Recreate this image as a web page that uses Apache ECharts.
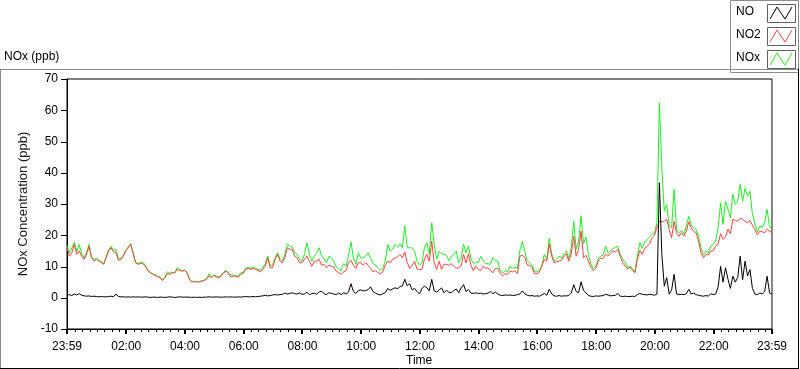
<!DOCTYPE html>
<html>
<head>
<meta charset="utf-8">
<script src="https://cdn.jsdelivr.net/npm/echarts@6/dist/echarts.min.js"></script>
<style>
    html, body { margin: 0; padding: 0; background: #fff; }
    #chart { width: 800px; height: 369px; }
</style>
</head>
<body>
<div id="chart"></div>
<script>
// one sample every 5 minutes, starting 23:59
var stepMin = 5;

var noValues = [
    0.8, 1.0, 0.7, 1.2, 0.9, 1.3, 0.8, 0.6, 0.5, 0.6, 0.4, 0.5, 0.4, 0.3, 0.4, 0.3, 0.3, 0.4, 0.5, 0.3,
    1.2, 0.4, 0.3, 0.3, 0.2, 0.3, 0.2, 0.3, 0.2, 0.3, 0.2, 0.2, 0.3, 0.2, 0.1, 0.2, 0.2, 0.1, 0.2, 0.2,
    0.1, 0.2, 0.3, 0.2, 0.1, 0.2, 0.3, 0.2, 0.2,
    0.2, 0.2, 0.1, 0.2, 0.1, 0.2, 0.1, 0.2, 0.2, 0.3, 0.2, 0.2, 0.3, 0.2, 0.2, 0.2, 0.3, 0.2, 0.3, 0.2,
    0.2, 0.3, 0.2, 0.3, 0.4, 0.3, 0.3, 0.4, 0.3, 0.4, 0.5, 0.6, 0.8, 0.6, 0.7, 0.9, 1.0, 0.9, 1.0, 1.1,
    1.5, 1.2, 1.4, 1.6, 1.3, 1.2, 1.5, 1.1,
    1.2, 1.8, 1.0, 1.3, 1.5, 1.1, 1.9, 2.1, 1.3, 1.0, 1.6, 1.4, 1.2, 1.0, 1.5, 1.0, 1.6, 1.2, 1.8, 4.5,
    2.0, 1.4, 2.3, 2.5, 2.2, 2.3, 2.6, 3.5, 2.0, 1.5, 1.1, 0.9, 1.3, 1.6, 3.0, 2.4, 2.8, 3.2, 2.9, 3.5,
    3.8, 5.9, 3.8, 4.5, 2.5, 3.0, 2.0, 1.2,
    3.0, 3.7, 3.2, 2.2, 5.9, 2.2, 1.8, 2.4, 3.2, 1.6, 2.4, 1.8, 1.6, 2.3, 2.8, 1.6, 3.2, 4.2, 2.0, 2.6,
    1.5, 1.4, 1.6, 1.3, 1.5, 1.2, 1.3, 1.5, 2.0, 1.3, 1.8, 1.2, 0.8, 0.7, 0.9, 0.8, 0.9, 0.7, 0.8, 1.0,
    1.2, 2.2, 1.3, 0.8, 0.6, 0.7, 0.5, 0.6, 0.5,
    0.9, 1.4, 0.8, 2.7, 1.2, 0.6, 0.5, 0.7, 0.5, 0.6, 0.6, 0.7, 1.5, 4.2, 2.0, 1.6, 5.1, 2.4, 1.6, 0.7,
    0.5, 0.4, 0.6, 0.5, 0.6, 0.7, 1.1, 0.9, 0.6, 0.7, 0.8, 1.4, 0.5, 0.4, 0.5, 0.4, 0.4, 0.5, 0.4, 1.0,
    1.4, 1.1, 1.0, 0.9, 1.1, 1.0,
    0.8, 1.2, 36.8, 13.9, 3.7, 6.4, 1.2, 2.5, 7.5, 1.2, 1.0, 1.1, 1.0, 1.3, 2.7, 1.2, 1.5, 1.0, 0.8, 0.6,
    0.5, 0.7, 0.5, 1.3, 1.0, 1.2, 3.5, 10.1, 5.0, 9.6, 6.0, 3.0, 6.9, 5.0, 6.5, 13.3, 5.8, 11.7, 7.0, 9.0,
    3.0, 1.2, 1.0, 1.5, 1.2, 2.0, 6.9, 1.5, 1.2
];

var no2Values = [
    16.0, 13.3, 14.4, 17.1, 13.9, 15.0, 13.3, 12.3, 13.9, 16.5, 12.8, 11.7, 12.3, 11.7, 11.2, 10.7, 12.8, 15.0, 16.0, 14.7,
    14.4, 12.0, 12.3, 13.3, 15.0, 16.0, 17.1, 14.1, 11.2, 10.7, 11.0, 10.9, 10.1, 8.7, 8.0, 7.5, 7.1, 6.8, 6.4, 5.5,
    6.4, 7.7, 7.5, 8.0, 7.9, 9.1, 8.7, 8.5, 8.7,
    8.0, 5.9, 5.1, 5.1, 5.1, 5.0, 5.3, 5.5, 5.9, 7.0, 6.4, 7.1, 6.6, 6.4, 7.0, 8.0, 8.5, 7.7, 6.6, 7.0,
    6.8, 6.6, 7.5, 7.8, 9.1, 9.4, 9.1, 9.4, 9.1, 8.7, 8.3, 9.1, 10.1, 12.8, 9.6, 9.6, 12.3, 13.9, 11.7, 11.2,
    12.8, 16.0, 15.5, 15.5, 13.3, 12.8, 11.2, 11.2,
    12.3, 13.3, 11.7, 10.1, 11.7, 11.7, 12.3, 10.4, 10.7, 9.6, 10.4, 10.1, 9.8, 8.5, 8.0, 7.5, 8.3, 8.7, 11.2, 12.0,
    10.4, 9.4, 11.2, 11.2, 10.4, 11.2, 10.4, 9.4, 8.3, 8.7, 8.0, 7.7, 8.3, 10.4, 11.7, 11.2, 12.3, 12.6, 13.0, 13.9,
    12.8, 14.7, 11.2, 9.4, 10.4, 11.7, 9.1, 9.1,
    9.1, 12.3, 13.9, 11.7, 18.1, 11.2, 9.1, 11.7, 9.1, 10.7, 10.7, 10.4, 10.9, 10.1, 9.4, 9.6, 10.1, 13.9, 11.2, 14.1,
    10.4, 8.7, 10.1, 9.1, 8.7, 10.1, 9.4, 9.6, 8.7, 8.0, 9.4, 9.4, 7.7, 7.0, 7.7, 7.5, 8.5, 8.3, 8.7, 7.7,
    13.3, 13.6, 13.0, 10.4, 10.4, 9.6, 7.7, 7.7, 8.3,
    10.1, 12.3, 11.7, 17.1, 13.3, 11.2, 11.5, 11.7, 12.0, 13.3, 14.1, 11.7, 14.1, 19.7, 13.3, 15.5, 21.3, 12.8, 13.6, 11.7,
    9.8, 8.7, 9.4, 11.7, 12.6, 12.6, 13.9, 13.3, 14.4, 15.0, 14.7, 15.5, 13.3, 11.2, 10.1, 9.2, 9.8, 8.7, 8.0, 12.3,
    15.1, 13.9, 15.8, 16.5, 17.3, 19.2,
    20.0, 22.5, 24.5, 24.3, 24.5, 25.1, 21.9, 19.2, 24.5, 20.8, 19.7, 20.8, 19.7, 21.3, 24.3, 22.4, 21.3, 20.8, 18.1, 14.4,
    12.8, 13.9, 13.7, 14.9, 15.1, 16.5, 17.3, 20.5, 18.7, 19.4, 21.9, 20.5, 25.1, 24.7, 24.5, 25.4, 25.1, 24.5, 24.0, 24.7,
    23.2, 21.9, 20.1, 21.3, 21.1, 20.8, 21.9, 21.3, 20.8
];

var noxValues = [
    16.8, 14.3, 16.0, 17.8, 14.8, 17.0, 14.1, 12.9, 14.4, 17.1, 13.2, 12.3, 12.7, 12.0, 11.6, 11.0, 13.1, 15.4, 16.5, 15.1,
    15.6, 12.4, 12.6, 13.6, 15.2, 16.3, 17.3, 14.6, 11.4, 11.0, 11.2, 11.4, 10.4, 8.9, 8.1, 7.7, 7.3, 6.9, 6.6, 5.7,
    6.5, 8.3, 7.8, 8.2, 8.0, 9.6, 9.0, 8.7, 8.9,
    8.2, 6.1, 5.2, 5.3, 5.2, 5.2, 5.4, 5.7, 6.1, 7.7, 6.6, 7.3, 6.9, 6.6, 7.2, 8.2, 8.8, 7.9, 7.3, 7.2,
    7.0, 6.9, 8.0, 8.1, 9.5, 9.7, 9.4, 9.8, 9.4, 9.1, 8.8, 9.7, 10.9, 13.4, 10.3, 10.5, 12.8, 14.4, 12.6, 11.7,
    13.9, 17.3, 16.5, 16.3, 14.4, 13.9, 12.3, 11.7,
    13.9, 17.6, 13.9, 11.7, 13.3, 14.4, 16.0, 13.3, 12.6, 11.2, 13.3, 12.8, 11.7, 9.8, 9.1, 8.7, 10.9, 10.1, 13.3, 17.9,
    12.8, 10.7, 14.4, 12.8, 12.8, 13.3, 14.4, 12.8, 10.9, 10.5, 9.4, 8.7, 9.6, 11.7, 17.1, 14.9, 15.5, 17.1, 16.2, 17.3,
    16.0, 23.0, 16.0, 16.0, 16.0, 14.9, 11.7, 10.5,
    11.2, 16.0, 17.6, 13.9, 24.0, 17.1, 12.3, 14.9, 14.1, 13.9, 13.6, 11.9, 13.0, 13.9, 14.9, 11.2, 12.8, 17.1, 14.4, 16.5,
    12.6, 10.9, 11.5, 11.2, 13.3, 11.9, 10.9, 10.9, 10.7, 12.8, 11.9, 11.7, 8.5, 7.9, 8.7, 8.3, 10.1, 9.4, 9.8, 9.4,
    15.1, 18.1, 14.7, 11.9, 11.1, 10.5, 8.3, 8.3, 8.7,
    10.5, 13.9, 12.3, 19.0, 14.1, 11.7, 12.2, 13.3, 12.8, 14.1, 14.9, 12.6, 16.0, 24.5, 15.5, 18.1, 26.1, 17.3, 19.4, 13.9,
    10.9, 9.4, 10.1, 12.4, 13.3, 13.6, 16.5, 14.4, 15.1, 15.7, 16.2, 16.5, 13.9, 12.3, 11.2, 9.6, 10.2, 9.2, 8.3, 13.3,
    17.6, 15.8, 17.9, 18.7, 19.4, 20.3,
    20.8, 24.0, 62.4, 41.6, 27.7, 29.9, 22.9, 22.4, 34.7, 21.9, 20.8, 21.5, 20.5, 22.9, 26.1, 23.2, 22.4, 21.9, 19.7, 16.0,
    13.7, 14.9, 14.3, 16.5, 17.1, 18.1, 22.4, 30.4, 23.5, 30.9, 28.3, 25.6, 33.1, 29.9, 30.9, 36.3, 30.9, 35.0, 32.5, 34.1,
    26.7, 23.7, 21.1, 22.9, 22.6, 24.0, 28.3, 22.9, 21.9
];

// x axis in minutes after 23:59
var hourTicks = [0, 121, 241, 361, 481, 601, 721, 841, 961, 1081, 1201, 1321, 1440];
var hourLabels = ['23:59', '02:00', '04:00', '06:00', '08:00', '10:00', '12:00',
                  '14:00', '16:00', '18:00', '20:00', '22:00', '23:59'];
var yTicks = [-10, 0, 10, 20, 30, 40, 50, 60, 70];

var FONT = '"Liberation Sans", Arial, sans-serif';

// quarter-hour minor ticks between the labelled ones
var minorTicks = [];
for (var m = 16; m < 1440; m += 15) {
    if (hourTicks.indexOf(m) < 0) minorTicks.push(m);
}

function toPairs(arr) {
    return arr.map(function (v, i) { return [i * stepMin, v]; });
}

// tick marks placed through the axes' own scales
function xTickSeries(values, len, width) {
    return {
        type: 'custom', silent: true, clip: false, z: 100,
        data: values.map(function (v) { return [v, 0]; }),
        renderItem: function (params, api) {
            var p = api.coord([api.value(0), -10]);
            var x = width % 2 ? Math.round(p[0]) + 0.5 : Math.round(p[0]);
            return {type: 'line', shape: {x1: x, y1: p[1], x2: x, y2: p[1] + len},
                    style: {stroke: '#000', lineWidth: width}};
        }
    };
}

function yTickSeries(values) {
    return {
        type: 'custom', silent: true, clip: false, z: 100,
        data: values.map(function (v) { return [0, v]; }),
        renderItem: function (params, api) {
            var p = api.coord([0, api.value(1)]);
            var y = Math.round(p[1]) + 0.5;
            return {type: 'line', shape: {x1: p[0] - 6, y1: y, x2: p[0], y2: y},
                    style: {stroke: '#000', lineWidth: 1}};
        }
    };
}

function swatch(y, color) {
    var x0 = 767;
    return [
        {type: 'rect', shape: {x: x0 + 0.5, y: y + 0.5, width: 28, height: 18},
         style: {fill: '#fff', stroke: '#606060', lineWidth: 1}},
        {type: 'polyline', shape: {points: [[x0 + 3, y + 15], [x0 + 10, y + 3], [x0 + 18, y + 15], [x0 + 25, y + 3]]},
         style: {stroke: color, lineWidth: 1, fill: null}}
    ];
}

function legendText(text, y) {
    return {type: 'text', left: 736, top: y - 7,
            style: {text: text, font: '12px ' + FONT, fill: '#000'}};
}

var chart = echarts.init(document.getElementById('chart'));

var graphics = [
    // outer frame
    {type: 'line', shape: {x1: 0, y1: 69.5, x2: 799, y2: 69.5}, style: {stroke: '#8c8c8c'}},
    {type: 'line', shape: {x1: 0.5, y1: 69, x2: 0.5, y2: 369}, style: {stroke: '#8c8c8c'}},
    {type: 'line', shape: {x1: 798.5, y1: 69, x2: 798.5, y2: 369}, style: {stroke: '#000'}},
    {type: 'line', shape: {x1: 0, y1: 368.5, x2: 799, y2: 368.5}, style: {stroke: '#000'}},
    // gray right edge of plot
    {type: 'line', shape: {x1: 772.5, y1: 79, x2: 772.5, y2: 329}, style: {stroke: '#8c8c8c'}, z: 10},
    {type: 'text', left: 4, top: 51, style: {text: 'NOx (ppb)', font: '12px ' + FONT, fill: '#000'}},
    {type: 'text', left: 406, top: 355, style: {text: 'Time', font: '12px ' + FONT, fill: '#000'}},
    // legend box
    {type: 'rect', shape: {x: 730.5, y: 0.5, width: 68, height: 72},
     style: {fill: '#fff', stroke: '#8c8c8c', lineWidth: 1}, z: 20},
    legendText('NO', 13), legendText('NO2', 36), legendText('NOx', 59)
].concat(swatch(4, '#000'), swatch(27, '#ff4040'), swatch(50, '#1ef01e'));

graphics.forEach(function (g) { if (g.z === undefined) g.z = 21; });

var option = {
    animation: false,
    backgroundColor: '#fff',
    grid: {
        left: 67, right: 28, top: 79, bottom: 40,
        show: true, backgroundColor: 'transparent', borderColor: '#000', borderWidth: 1
    },
    xAxis: {
        type: 'value', min: 0, max: 1440,
        axisLine: {show: true, onZero: false, lineStyle: {color: '#000', width: 1}},
        axisTick: {show: false},
        axisLabel: {
            customValues: hourTicks, margin: 12, fontFamily: FONT, fontSize: 12, color: '#000',
            formatter: function (v) {
                var k = hourTicks.indexOf(Math.round(v));
                return k >= 0 ? hourLabels[k] : '';
            }
        },
        splitLine: {show: false}
    },
    yAxis: {
        type: 'value', min: -10, max: 70, interval: 10,
        name: 'NOx Concentration (ppb)', nameLocation: 'middle', nameGap: 28,
        nameTextStyle: {fontFamily: FONT, fontSize: 13, color: '#1a1a1a'},
        axisLine: {show: true, onZero: false, lineStyle: {color: '#000', width: 1}},
        axisTick: {show: false},
        axisLabel: {margin: 9, fontFamily: FONT, fontSize: 12, color: '#000'},
        splitLine: {show: false}
    },
    series: [{
        name: 'NOx', type: 'line', showSymbol: false, symbol: 'none',
        lineStyle: {color: '#1ef01e', width: 1}, data: toPairs(noxValues)
    }, {
        name: 'NO2', type: 'line', showSymbol: false, symbol: 'none',
        lineStyle: {color: '#ff4040', width: 1}, data: toPairs(no2Values)
    }, {
        name: 'NO', type: 'line', showSymbol: false, symbol: 'none',
        lineStyle: {color: '#000', width: 1}, data: toPairs(noValues)
    },
        xTickSeries(hourTicks, 5, 2),
        xTickSeries(minorTicks, 3, 1),
        yTickSeries(yTicks)
    ],
    graphic: graphics
};

chart.setOption(option);
</script>
</body>
</html>
